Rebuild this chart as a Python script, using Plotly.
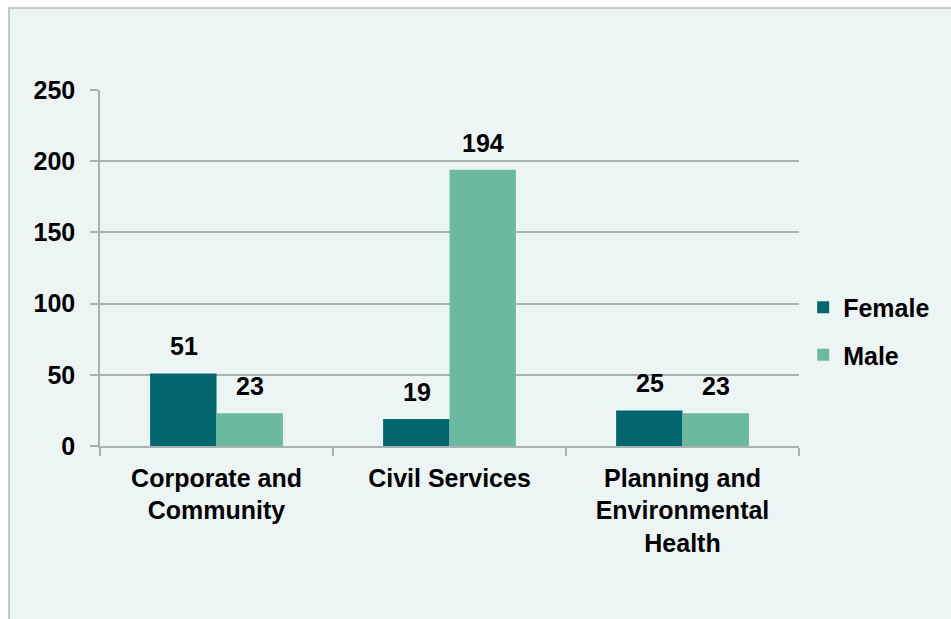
import plotly.graph_objects as go

# Staff headcount by directorate and gender
directorates = ["Corporate and<br>Community", "Civil Services", "Planning and<br>Environmental<br>Health"]
female = [51, 19, 25]
male = [23, 194, 23]
y_ticks = [0, 50, 100, 150, 200, 250]

FEMALE_COLOR = "#02666f"
MALE_COLOR = "#6cb9a1"
BG = "#edf5f4"
GRID = "#a9b1b1"
FONT = dict(family="Liberation Sans, Arial, sans-serif", size=25, color="black", weight="bold")

fig = go.Figure()
fig.add_trace(go.Bar(name="Female", x=directorates, y=female, marker_color=FEMALE_COLOR,
                     marker_line_width=0, legendgroup="f"))
fig.add_trace(go.Bar(name="Male", x=directorates, y=male, marker_color=MALE_COLOR,
                     marker_line_width=0, legendgroup="m"))

# value labels above each bar
half = 33
for cat, f, m in zip(directorates, female, male):
    for val, shift in ((f, -half), (m, half)):
        fig.add_annotation(x=cat, y=val, text=str(val), showarrow=False,
                           xshift=shift, yshift=11, yanchor="bottom", font=FONT)

# panel background with a thin border on its top and left edges
fig.add_shape(type="rect", xref="paper", yref="paper",
              x0=-0.1302, x1=1.4, y0=-0.6, y1=1.2303,
              fillcolor=BG, line=dict(color="#b5b9b9", width=1.5), layer="below")

fig.update_layout(
    width=951, height=619,
    margin=dict(l=100, r=152, t=90, b=173),
    paper_bgcolor="white",
    plot_bgcolor="rgba(0,0,0,0)",
    font=FONT,
    barmode="group",
    bargap=0.43,
    bargroupgap=0,
    showlegend=True,
    legend=dict(x=1.006, y=0.323, xanchor="left", yanchor="middle",
                tracegroupgap=12, font=FONT, bgcolor="rgba(0,0,0,0)"),
    xaxis=dict(showline=True, linecolor=GRID, linewidth=1.5, ticks="outside",
               tickson="boundaries", ticklen=8, tickcolor=GRID, tickwidth=1.5,
               showgrid=False, tickfont=FONT, ticklabelstandoff=9),
    yaxis=dict(range=[0, 250], tickvals=y_ticks, showline=True, linecolor=GRID, linewidth=1.5,
               ticks="outside", ticklen=8, tickcolor=GRID, tickwidth=1.5,
               showgrid=True, gridcolor=GRID, gridwidth=1.5, zeroline=False,
               tickfont=FONT, ticklabelstandoff=10),
)

fig.write_html("out.html")
